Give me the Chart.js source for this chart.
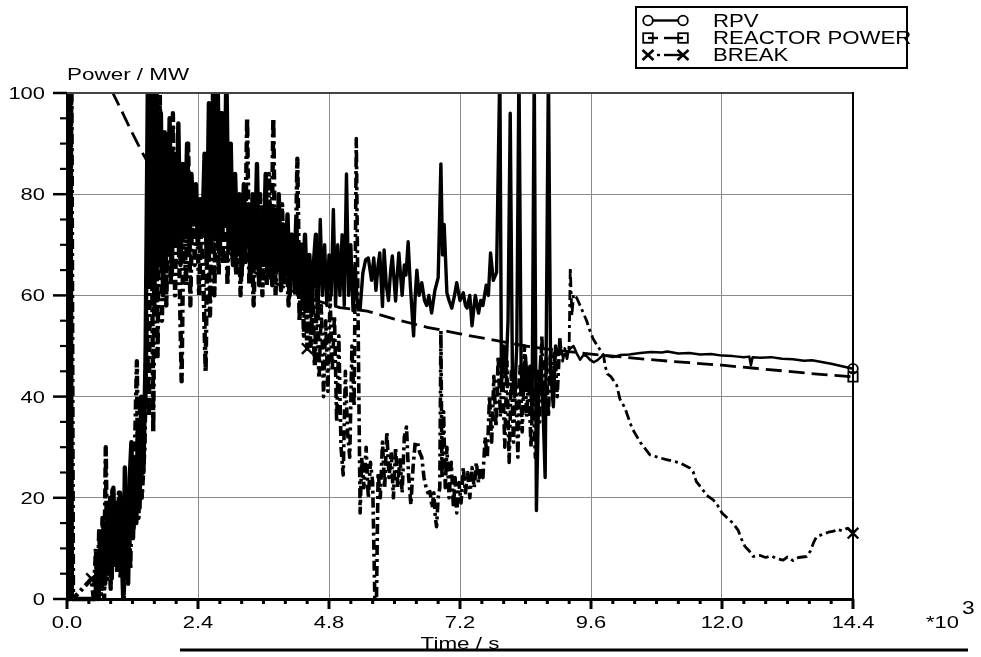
<!DOCTYPE html>
<html>
<head>
<meta charset="utf-8">
<script src="https://cdn.jsdelivr.net/npm/chart.js@4.4.0/dist/chart.umd.min.js"></script>
<style>
html,body{margin:0;padding:0;background:#fff;}
#wrap{width:981px;height:657px;position:relative;}
</style>
</head>
<body>
<div id="wrap"><canvas id="c" width="981" height="657"></canvas></div>
<script>
// ---------------- DATA ----------------
const seriesNames = ['RPV', 'REACTOR POWER', 'BREAK'];
const yAxisTitle = 'Power / MW';
const xAxisTitle = 'Time / s';
const xMultiplier = '*10';
const xMultiplierExp = '3';

const xTicks = [0, 2.4, 4.8, 7.2, 9.6, 12.0, 14.4];
const xTickLabels = ['0.0', '2.4', '4.8', '7.2', '9.6', '12.0', '14.4'];
const yTicks = [0, 20, 40, 60, 80, 100];
const yTickLabels = ['0', '20', '40', '60', '80', '100'];

// time in units of 10^3 s
const rpvTime = [
  0,0.03,0.06,0.09,0.45,
  0.52,0.55,0.58,0.61,0.64,0.67,0.70,0.73,0.76,0.79,0.82,0.85,0.88,0.91,0.94,0.97,1.00,1.03,1.06,1.09,1.12,1.15,1.18,1.21,1.24,1.27,1.30,1.33,1.36,
  1.40,
  1.44,1.48,1.52,1.56,1.60,1.64,1.68,1.72,1.76,1.80,
  1.84,1.88,1.92,1.96,2.00,2.04,2.08,2.12,2.16,2.20,
  2.24,2.28,2.32,2.36,2.40,2.44,2.48,2.52,2.56,2.60,
  2.64,2.68,2.72,2.76,2.80,2.84,2.88,2.92,2.96,3.00,
  3.04,3.08,3.12,3.16,3.20,3.24,3.28,3.32,3.36,3.40,
  3.44,3.48,3.52,3.56,3.60,3.64,3.68,3.72,3.76,3.80,
  3.84,3.88,3.92,3.96,4.00,4.04,4.08,4.12,4.16,4.20,
  4.24,4.28,4.32,4.36,4.40,4.44,4.48,4.52,
  4.56,4.60,4.64,4.68,4.72,4.76,4.80,4.84,4.88,4.92,4.96,5.00,5.04,5.08,5.12,5.16,5.20,5.24,5.28,5.32,5.37,
  5.42,5.47,5.52,5.58,5.62,5.66,5.70,5.73,5.78,5.81,
  5.85,5.89,5.93,5.96,6.02,6.05,6.08,6.14,6.18,6.21,
  6.25,6.29,6.35,6.38,6.41,6.45,6.50,6.55,6.59,6.63,
  6.68,6.74,6.80,6.85,6.88,6.91,6.96,7.00,7.05,7.10,
  7.14,7.20,7.26,7.30,7.33,7.38,7.42,7.48,7.54,7.58,
  7.62,7.68,7.72,7.76,7.81,7.87,
  7.93,7.96,8.00,8.04,8.08,8.12,8.16,8.20,8.24,8.28,
  8.32,8.36,8.40,8.44,8.48,8.52,8.56,8.60,8.64,8.68,
  8.72,8.76,8.82,8.86,8.91,8.95,9.00,9.03,9.08,9.16,
  9.22,9.28,9.34,9.40,9.46,9.52,9.58,9.65,9.72,9.82,
  9.9,10.0,10.13,10.3,10.5,10.7,10.9,11.0,11.2,11.4,
  11.6,11.8,12.0,12.2,12.4,12.5,12.53,12.56,12.7,12.9,
  13.1,13.3,13.5,13.65,13.8,14.0,14.2,14.4
];
const rpvPower = [
  0,0,110,0,0,
  0,8,0,12,2,15,3,18,5,20,4,22,8,19,6,21,10,0,26,8,3,24,31,12,28,15,35,18,40,
  25,
  48,100,62,104,58,101,66,96,60,92,
  68,95,64,88,70,94,66,86,72,90,
  68,84,74,82,70,79,72,88,66,98,
  70,104,72,103,68,96,74,104,70,90,
  66,84,68,80,64,82,70,78,63,80,
  66,86,62,76,66,84,64,78,62,77,
  65,80,61,74,64,76,60,72,63,75,
  60,70,58,72,57.6,68,56,66,
  72,57,75,60,70,58,68,60,77,58,70,60,72,58,84,60,70,57,66,58,57.3,
  64.4,67,67.4,63,67.4,61,66,68.4,57.8,69,
  62,59,65,67.8,58.9,64,68.4,60,66,64,
  70.6,62,52,60,65,60,62.5,59,58,60,
  56.5,61,63.5,86,68,74,60.5,59,57.5,60,
  62.5,59,60.5,58,57.5,60,54,60,56.5,59,
  58,62,60,68.4,63,64.5,
  105,42,50,44,55,96,45,40,50,105,
  45,40,48,42,46,36,105,17.5,40,48,
  38,24,105,45,38,50,48,50,48,48.6,
  49.5,50,48.5,47.3,48.2,48,47.3,46.8,47.2,48.2,
  48.0,47.8,48.2,48.3,48.6,48.8,48.7,48.9,48.5,48.6,
  48.3,48.4,48.1,48.0,47.8,47.9,46.2,47.8,47.7,47.8,
  47.5,47.4,47.1,47.2,46.9,46.5,46.0,45.5
];

const reactorTime = [0,0.2,0.45,0.7,0.84,1.0,1.2,1.37,1.6,2.0,2.4,3.0,3.6,4.4,5.0,5.5,6.0,6.6,7.2,7.8,8.4,9.0,9.6,10.2,10.8,11.4,12.0,12.6,13.2,13.8,14.4];
const reactorPower = [600,190,125,106,100,96.5,92,88.4,84,78,73,67.5,63.5,59.5,57.6,56.9,55.3,53.7,52.4,51.2,50.0,49.1,48.4,47.8,47.2,46.7,46.2,45.6,45.0,44.4,43.9];

const breakTime = [
  0,0.05,0.08,0.11,0.45,0.49,0.53,0.56,0.59,0.62,0.65,0.68,0.71,0.74,0.77,0.80,0.83,0.86,0.89,0.92,0.95,0.98,1.01,1.04,1.07,1.10,1.13,1.16,1.19,1.22,1.25,1.28,1.31,1.34,1.37,
  1.42,1.46,1.50,1.54,1.58,1.62,1.66,1.70,1.74,1.78,
  1.82,1.86,1.90,1.94,1.98,2.02,2.06,2.10,2.14,2.18,
  2.22,2.26,2.30,2.34,2.38,2.42,2.46,2.50,2.54,2.58,
  2.62,2.66,2.70,2.74,2.78,2.82,2.86,2.90,2.94,2.98,
  3.02,3.06,3.10,3.14,3.18,3.22,3.26,3.30,3.34,3.38,
  3.42,3.46,3.50,3.54,3.58,3.62,3.66,3.70,3.74,3.78,
  3.82,3.86,3.90,3.94,3.98,4.02,4.06,4.10,4.14,4.18,
  4.22,4.26,4.30,4.34,4.37,4.40,4.43,4.46,4.50,
  4.54,4.58,4.62,4.66,4.70,4.74,4.78,4.82,4.86,4.90,
  4.94,4.98,5.02,5.06,5.10,5.14,5.18,5.22,5.26,5.30,
  5.34,5.37,5.40,5.44,5.48,5.52,5.56,5.60,5.64,5.67,
  5.70,5.74,5.78,5.82,5.86,5.90,5.94,5.98,6.02,6.06,
  6.10,6.14,6.18,6.22,6.26,6.30,6.34,6.38,
  6.42,6.46,6.50,6.54,6.58,6.61,6.65,6.69,6.72,6.75,
  6.77,6.80,6.83,6.85,6.87,6.90,6.93,6.96,7.00,7.04,
  7.08,7.11,7.14,7.18,7.22,7.26,7.30,7.34,7.38,7.42,
  7.46,7.50,7.54,7.58,7.62,7.66,7.70,7.74,7.78,7.82,
  7.86,7.90,7.94,7.98,8.02,8.06,8.10,8.14,8.18,8.22,
  8.26,8.30,8.34,8.38,8.42,8.46,8.50,8.54,8.58,8.62,
  8.66,8.70,8.74,8.78,8.82,8.86,8.90,8.94,8.98,9.03,
  9.08,9.12,9.16,9.20,9.22,9.25,9.28,9.34,9.40,9.46,
  9.52,9.58,9.64,9.72,9.83,9.86,9.90,9.96,
  10.07,10.13,10.22,10.35,10.5,10.68,10.86,11.0,11.23,11.41,
  11.47,11.53,11.62,11.72,11.84,11.92,12.0,12.1,12.2,12.3,
  12.35,12.42,12.5,12.57,12.7,12.8,12.9,13.0,13.12,13.2,
  13.3,13.4,13.55,13.62,13.68,13.73,13.85,13.95,14.05,14.1,
  14.2,14.3,14.4
];
const breakPower = [
  0,0,110,0,4,0,10,0,14,1,16,0,30,4,17,2,21.5,6,18,5,21,4,14,0,20,5,17,6,26,14,32,47,16,38,20,
  30,56,36,98,33,90,48,100,55,93,
  58,86,62,96,60,84,65,43,80,62,
  90,58,82,66,78,60,75,62,45,80,
  56,92,60,88,64,96,66,84,62,80,
  68,74,64,78,60,76,66,95,62,72,
  58,75,65,80,60,78,62,84,63,95,
  60,74,65,78,62,70,58,72,66,60,
  87,55,70,52,64,49.5,60,50,58,
  46,62,44,58,40,55,41,60,45,56,
  35,52,30,24.5,45,33,28,50,38,91,
  48,17,28,22,30,20,27,23,0,0,
  25,20,31,22,33,24,29,20,30,22,
  28,21,32,34,24,18.6,26,31,
  31,29,28,24,22,21,21.2,18,21,16,
  14.3,20,22,53,24,37,22,30,20,27,
  18,24,17,23,19,26,21,25,20,26,
  22,27,23,26,24,32,28,40,31,44,
  34,48,36,46,30,47,27,45,31,44,
  28,46,33,50,36,44,30,42,28,45,
  35,52,38,48,36,50,42,49,40,51.5,
  47,49.5,47.5,50,65.5,56,60.2,59.5,58,56.5,
  55,53,51.4,50,48.2,46,44.5,44,
  42.3,39.5,37.8,33.8,31,28.5,27.9,27.5,26.9,25.9,
  25.2,23.2,22,20.5,19.6,18.5,17,16,15,13.5,
  12,10.4,9.5,8.4,8.6,8.2,8.5,8.0,7.7,8.3,
  7.6,8.2,8.4,9.5,11.2,12.3,12.8,13.2,13.4,13.8,
  13.5,14.0,13.0
];

// times at which the series symbols are drawn
const rpvMarkerTimes = [4.4, 14.4];
const reactorMarkerTimes = [4.4, 14.4];
const breakMarkerTimes = [0.45, 4.4, 14.4];

// ---------------- CHART ----------------
const FONT = '"Liberation Sans", Arial, Helvetica, sans-serif';

function toXY(t, v) { return t.map((x, i) => ({ x: x, y: v[i] })); }
function markerRadius(times, r) {
  return (c) => (c.raw && times.indexOf(c.raw.x) !== -1) ? r : 0;
}
// stroke width per time band: densest oscillation first, then noisy, then smooth
function bandWidth(dense, noisy, smooth) {
  return (c) => {
    const x = c.p0 ? c.p0.parsed.x : 99;
    if (x < 4.6) return dense;
    if (x < 9.0) return noisy;
    return smooth;
  };
}

function sText(ctx, s, x, y, align, size, sx) {
  ctx.save();
  ctx.font = size + 'px ' + FONT;
  ctx.textAlign = 'left';
  ctx.textBaseline = 'alphabetic';
  const w = ctx.measureText(s).width * sx;
  let x0 = x;
  if (align === 'center') x0 = x - w / 2;
  else if (align === 'right') x0 = x - w;
  ctx.translate(x0, y);
  ctx.scale(sx, 1);
  ctx.fillStyle = '#000';
  ctx.fillText(s, 0, 0);
  ctx.restore();
}
function seg(ctx, x1, y1, x2, y2) {
  ctx.beginPath(); ctx.moveTo(x1, y1); ctx.lineTo(x2, y2); ctx.stroke();
}
function sym(ctx, type, x, y) {
  ctx.save();
  ctx.setLineDash([]);
  ctx.lineWidth = 1.8;
  ctx.strokeStyle = '#000';
  if (type === 'circle') {
    ctx.beginPath(); ctx.arc(x, y, 4.8, 0, Math.PI * 2); ctx.stroke();
  } else if (type === 'rect') {
    ctx.strokeRect(x - 4.8, y - 4.8, 9.6, 9.6);
  } else {
    ctx.lineWidth = 2.6;
    seg(ctx, x - 5.5, y - 5, x + 5.5, y + 5);
    seg(ctx, x - 5.5, y + 5, x + 5.5, y - 5);
  }
  ctx.restore();
}

const decor = {
  id: 'decor',
  afterDraw(chart) {
    const ctx = chart.ctx, a = chart.chartArea;
    const xs = chart.scales.x, ys = chart.scales.y;
    ctx.save();
    ctx.lineCap = 'butt';
    // top and right frame
    ctx.strokeStyle = '#444'; ctx.lineWidth = 2;
    seg(ctx, a.left, a.top, a.right + 1, a.top);
    ctx.strokeStyle = '#000'; ctx.lineWidth = 2;
    seg(ctx, a.right, a.top - 1, a.right, a.bottom);
    // y ticks
    ctx.strokeStyle = '#000';
    for (let v = 0; v <= 100; v += 5) {
      const y = ys.getPixelForValue(v);
      const major = yTicks.indexOf(v) !== -1;
      ctx.lineWidth = major ? 2.5 : 2.2;
      seg(ctx, a.left - (major ? 14 : 7), y, a.left, y);
    }
    // x ticks
    for (let k = 0; k <= 36; k++) {
      const v = k * 0.4;
      const x = xs.getPixelForValue(v);
      const major = (k % 6) === 0;
      ctx.lineWidth = 3;
      seg(ctx, x, a.bottom, x, a.bottom + (major ? 10 : 5));
    }
    // tick labels
    yTicks.forEach((v, i) => sText(ctx, yTickLabels[i], 45, ys.getPixelForValue(v) + 6, 'right', 16.5, 1.33));
    xTicks.forEach((v, i) => sText(ctx, xTickLabels[i], xs.getPixelForValue(v), 628, 'center', 16.5, 1.33));
    sText(ctx, xMultiplier, 926, 628, 'left', 16.5, 1.33);
    sText(ctx, xMultiplierExp, 962, 614, 'left', 17.5, 1.3);
    // axis titles
    sText(ctx, yAxisTitle, a.left, 80, 'left', 16.5, 1.36);
    sText(ctx, xAxisTitle, 460, 649, 'center', 16.5, 1.36);
    ctx.strokeStyle = '#000'; ctx.lineWidth = 3;
    seg(ctx, 180, 650, 968, 650);
    // legend
    ctx.lineWidth = 2; ctx.strokeStyle = '#000';
    ctx.strokeRect(636, 7, 271, 61);
    const rows = [20.5, 38, 55];
    const xl = 648, xr = 683;
    ctx.lineWidth = 2.4;
    // RPV
    seg(ctx, xl + 4.8, rows[0], xr - 4.8, rows[0]);
    sym(ctx, 'circle', xl, rows[0]); sym(ctx, 'circle', xr, rows[0]);
    // REACTOR POWER
    seg(ctx, xl, rows[1], xl + 10, rows[1]);
    seg(ctx, xl + 16, rows[1], xr, rows[1]);
    sym(ctx, 'rect', xl, rows[1]); sym(ctx, 'rect', xr, rows[1]);
    // BREAK
    seg(ctx, xl + 9, rows[2], xl + 12, rows[2]);
    seg(ctx, xl + 16, rows[2], xr, rows[2]);
    sym(ctx, 'cross', xl, rows[2]); sym(ctx, 'cross', xr, rows[2]);
    seriesNames.forEach((n, i) => sText(ctx, n, 713, rows[i] + 6.3, 'left', 17.5, 1.27));
    ctx.restore();
  }
};

const common = {
  borderColor: '#000',
  pointBorderColor: '#000',
  pointBackgroundColor: 'rgba(0,0,0,0)',
  pointBorderWidth: 1.8,
  pointHoverRadius: 0,
  pointHitRadius: 0,
  tension: 0,
  fill: false,
  borderJoinStyle: 'round',
  clip: { left: 0, top: 0, right: 10, bottom: 3 }
};

new Chart(document.getElementById('c'), {
  type: 'line',
  data: {
    datasets: [
      Object.assign({}, common, {
        label: seriesNames[0],
        data: toXY(rpvTime, rpvPower),
        borderWidth: 2.5,
        segment: { borderWidth: bandWidth(4.4, 3.4, 2.5) },
        pointStyle: 'circle',
        pointRadius: markerRadius(rpvMarkerTimes, 4.8)
      }),
      Object.assign({}, common, {
        label: seriesNames[1],
        data: toXY(reactorTime, reactorPower),
        borderWidth: 2.8,
        borderDash: [16, 7],
        pointStyle: 'rect',
        pointRadius: markerRadius(reactorMarkerTimes, 6.6)
      }),
      Object.assign({}, common, {
        label: seriesNames[2],
        data: toXY(breakTime, breakPower),
        borderWidth: 2.8,
        segment: { borderWidth: bandWidth(4.4, 3.6, 2.8) },
        borderDash: [10, 4, 3, 4],
        pointStyle: 'crossRot',
        pointBorderWidth: 2.4,
        pointRadius: markerRadius(breakMarkerTimes, 7.5)
      })
    ]
  },
  options: {
    responsive: false,
    animation: false,
    devicePixelRatio: 1,
    events: [],
    layout: { padding: { left: 0, top: 93, right: 128, bottom: 0 } },
    plugins: { legend: { display: false }, tooltip: { enabled: false }, title: { display: false } },
    scales: {
      x: {
        type: 'linear', min: 0, max: 14.4,
        afterBuildTicks: (s) => { s.ticks = xTicks.map(v => ({ value: v })); },
        afterFit: (s) => { s.height = 58; },
        ticks: { display: false },
        grid: { color: '#8a8a8a', lineWidth: 1, drawTicks: false },
        border: { display: true, color: '#000', width: 3 }
      },
      y: {
        type: 'linear', min: 0, max: 100,
        afterBuildTicks: (s) => { s.ticks = yTicks.map(v => ({ value: v })); },
        afterFit: (s) => { s.width = 67; },
        ticks: { display: false },
        grid: { color: '#8a8a8a', lineWidth: 1, drawTicks: false },
        border: { display: true, color: '#000', width: 3 }
      }
    }
  },
  plugins: [decor]
});
</script>
</body>
</html>
